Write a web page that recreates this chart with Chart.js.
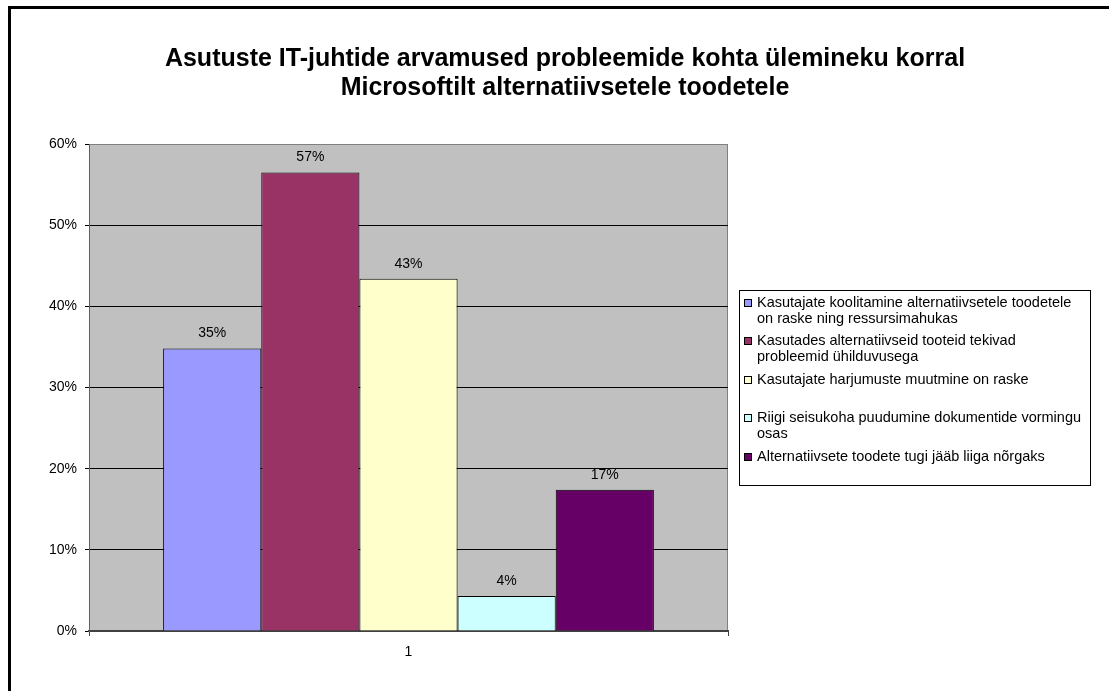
<!DOCTYPE html>
<html>
<head>
<meta charset="utf-8">
<script src="https://cdn.jsdelivr.net/npm/chart.js@4"></script>
<style>
    body { margin: 0; background: #fff; overflow: hidden; }
    #frame { position: absolute; left: 8px; top: 6px; width: 1200px; height: 800px; border: 3px solid #000; }
    #chart { position: absolute; left: 0; top: 0; }
</style>
</head>
<body>
<div id="frame"></div>
<canvas id="chart" width="1109" height="691"></canvas>
<script>
// Asutuste IT-juhtide arvamused (Excel-stiilis tulpdiagramm)

const TITLE_LINES = [
    'Asutuste IT-juhtide arvamused probleemide kohta ülemineku korral',
    'Microsoftilt alternatiivsetele toodetele'
];

const CATEGORIES = ['1'];

// legendi tekst ridadeks jaotatuna
const SERIES_LABELS = [
    ['Kasutajate koolitamine alternatiivsetele toodetele', 'on raske ning ressursimahukas'],
    ['Kasutades alternatiivseid tooteid tekivad', 'probleemid ühilduvusega'],
    ['Kasutajate harjumuste muutmine on raske'],
    ['Riigi seisukoha puudumine dokumentide vormingu', 'osas'],
    ['Alternatiivsete toodete tugi jääb liiga nõrgaks']
];

// protsentides
const SERIES_VALUES = [34.8, 56.5, 43.4, 4.3, 17.4];

const SERIES_COLORS = ['#9999FF', '#993366', '#FFFFCC', '#CCFFFF', '#660066'];

const Y_MAX = 60;
const Y_STEP = 10;

const FONT = "'Liberation Sans', Arial, sans-serif";

const plotBackground = {
    id: 'plotBackground',
    beforeDraw(chart) {
        const { ctx, chartArea: a } = chart;
        ctx.save();
        ctx.fillStyle = '#C0C0C0';
        ctx.fillRect(a.left, a.top, a.right - a.left, a.bottom - a.top);
        ctx.strokeStyle = '#808080';
        ctx.lineWidth = 1;
        ctx.beginPath();
        ctx.moveTo(a.left, a.top + 0.5);
        ctx.lineTo(a.right - 0.5, a.top + 0.5);
        ctx.lineTo(a.right - 0.5, a.bottom);
        ctx.stroke();
        ctx.restore();
    }
};

const titleLines = {
    id: 'titleLines',
    afterDraw(chart) {
        const ctx = chart.ctx;
        ctx.save();
        ctx.fillStyle = '#000';
        ctx.font = 'bold 25px ' + FONT;
        ctx.textAlign = 'center';
        ctx.textBaseline = 'alphabetic';
        ctx.fillText(TITLE_LINES[0], 565, 66);
        ctx.fillText(TITLE_LINES[1], 565, 95);
        ctx.restore();
    }
};

const valueLabels = {
    id: 'valueLabels',
    afterDatasetsDraw(chart) {
        const ctx = chart.ctx;
        ctx.save();
        ctx.fillStyle = '#000';
        ctx.font = '14px ' + FONT;
        ctx.textAlign = 'center';
        ctx.textBaseline = 'middle';
        chart.data.datasets.forEach((ds, i) => {
            const bar = chart.getDatasetMeta(i).data[0];
            ctx.fillText(Math.round(ds.data[0]) + '%', bar.x, bar.y - 15);
        });
        ctx.restore();
    }
};

const boxLegend = {
    id: 'boxLegend',
    afterDraw(chart) {
        const ctx = chart.ctx;
        const left = 739.5, top = 290.5, right = 1090.5, bottom = 485.5;
        ctx.save();
        ctx.strokeStyle = '#000';
        ctx.lineWidth = 1;
        ctx.strokeRect(left, top, right - left, bottom - top);
        ctx.font = '14.5px ' + FONT;
        ctx.textAlign = 'left';
        ctx.textBaseline = 'middle';
        chart.data.datasets.forEach((ds, i) => {
            const y = 303 + i * 38.4;
            ctx.fillStyle = ds.backgroundColor;
            ctx.fillRect(744, Math.round(y) - 4, 7, 7);
            ctx.strokeStyle = '#000';
            ctx.strokeRect(744.5, Math.round(y) - 3.5, 7, 7);
            ctx.fillStyle = '#000';
            SERIES_LABELS[i].forEach((line, j) => {
                ctx.fillText(line, 757, y + j * 15.5);
            });
        });
        ctx.restore();
    }
};

const datasets = SERIES_LABELS.map((lines, i) => ({
    label: lines.join(' '),
    data: [SERIES_VALUES[i]],
    backgroundColor: SERIES_COLORS[i],
    borderColor: '#000',
    borderWidth: 1,
    categoryPercentage: 0.768,
    barPercentage: 1
}));

new Chart(document.getElementById('chart'), {
    type: 'bar',
    data: { labels: CATEGORIES, datasets },
    options: {
        responsive: false,
        animation: false,
        layout: { padding: { left: 0, top: 144, right: 381, bottom: 0 } },
        plugins: {
            legend: { display: false },
            title: { display: false },
            tooltip: { enabled: false }
        },
        scales: {
            x: {
                offset: true,
                grid: { drawOnChartArea: false, drawTicks: true, tickLength: 5, offset: true, color: '#404040' },
                border: { color: '#404040', width: 2 },
                ticks: { color: '#000', font: { family: FONT, size: 14 }, padding: 8 },
                afterFit(scale) { scale.height = 60; }
            },
            y: {
                min: 0,
                max: Y_MAX,
                grid: {
                    color: ctx => (ctx.tick && ctx.tick.value === Y_MAX ? '#808080' : '#000'),
                    tickColor: '#000',
                    tickLength: 4,
                    lineWidth: 1
                },
                border: { color: '#606060', width: 1 },
                ticks: {
                    stepSize: Y_STEP,
                    color: '#000',
                    font: { family: FONT, size: 14 },
                    padding: 8,
                    callback: v => v + '%'
                },
                afterFit(scale) { scale.width = 89; }
            }
        }
    },
    plugins: [plotBackground, titleLines, valueLabels, boxLegend]
});
</script>
</body>
</html>
